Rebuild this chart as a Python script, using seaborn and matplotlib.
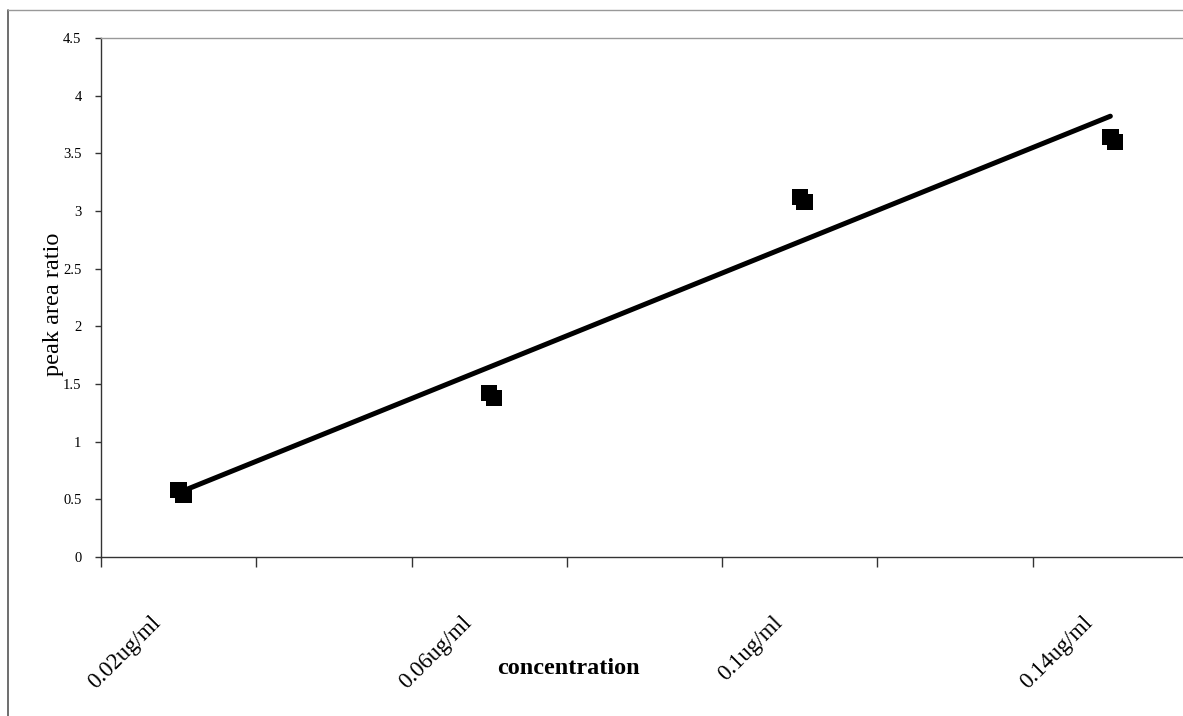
import numpy as np
import seaborn as sns
import matplotlib
matplotlib.use("Agg")
import matplotlib.pyplot as plt
from matplotlib import patheffects as pe
from matplotlib.transforms import ScaledTranslation
from matplotlib.lines import Line2D
from matplotlib.ticker import FuncFormatter

# ---- data ----
concentrations = ["0.02ug/ml", "0.06ug/ml", "0.1ug/ml", "0.14ug/ml"]
peak_area_ratio = [0.58, 1.42, 3.12, 3.64]
y_ticks = [0, 0.5, 1, 1.5, 2, 2.5, 3, 3.5, 4, 4.5]

label_step = 2  # category slots per labelled concentration (Excel skip)
pos = np.arange(len(concentrations)) * label_step

sns.set_style("white")
plt.rcParams["font.family"] = ["Liberation Serif", "DejaVu Serif"]
plt.rcParams["text.color"] = "black"
plt.rcParams["xtick.color"] = "black"
plt.rcParams["ytick.color"] = "black"
plt.rcParams["axes.labelcolor"] = "black"

W, H = 1183, 716
fig = plt.figure(figsize=(W / 100, H / 100), dpi=100)
fig.patch.set_facecolor("white")
ax = fig.add_axes([101 / W, (H - 557) / H, 1087 / W, 519 / H])

shadow = [pe.SimplePatchShadow(offset=(3.5, -3.5), shadow_rgbFace="black", alpha=1.0),
          pe.Normal()]
sns.regplot(x=pos, y=peak_area_ratio, ci=None, marker="s", color="black",
            truncate=True, ax=ax,
            scatter_kws=dict(s=140, linewidths=0, alpha=1, path_effects=shadow, zorder=3),
            line_kws=dict(lw=3.6, solid_capstyle="round", zorder=4))

ax.set_xlim(-0.5, (len(concentrations) - 1) * label_step + 0.5)
ax.set_ylim(0, 4.5)
ax.set_yticks(y_ticks)
ax.yaxis.set_major_formatter(FuncFormatter(lambda v, p: f"{v:g}"))
ax.tick_params(axis="y", left=True, length=4, width=1, direction="out", pad=10,
               labelsize=10.5, color="#333")

ax.set_xticks(pos)
ax.set_xticklabels(concentrations, rotation=45, ha="right", va="top",
                   rotation_mode="anchor", fontsize=16.5)
ax.set_xticks(np.arange(-0.5, (len(concentrations) - 1) * label_step + 1, 1), minor=True)
ax.tick_params(axis="x", which="major", bottom=True, length=0, pad=40)
ax.tick_params(axis="x", which="minor", bottom=True, length=7, width=1,
               direction="out", color="#333")
for lbl in ax.get_xticklabels():
    lbl.set_transform(lbl.get_transform() + ScaledTranslation(-28 / 100, 0, fig.dpi_scale_trans))

ax.set_xlabel("concentration", fontsize=17.5, fontweight="bold", va="baseline")
ax.xaxis.set_label_coords((568 - 101) / 1087, (557 - 674) / 519)
ax.set_ylabel("peak area ratio", fontsize=17.5)
ax.yaxis.set_label_coords((64 - 101) / 1087, (557 - 304) / 519)

for s in ["left", "bottom"]:
    ax.spines[s].set_color("#333")
    ax.spines[s].set_linewidth(1)
ax.spines["top"].set_color("#999")
ax.spines["top"].set_linewidth(1)
ax.spines["right"].set_visible(False)

# outer chart-area border
fig.add_artist(Line2D([8 / W, 8 / W], [0, 1 - 10 / H], transform=fig.transFigure,
                      color="#555", lw=1.2))
fig.add_artist(Line2D([8 / W, 1], [1 - 10 / H, 1 - 10 / H], transform=fig.transFigure,
                      color="#999", lw=1))

fig.savefig("out.png", dpi=100, facecolor="white")
